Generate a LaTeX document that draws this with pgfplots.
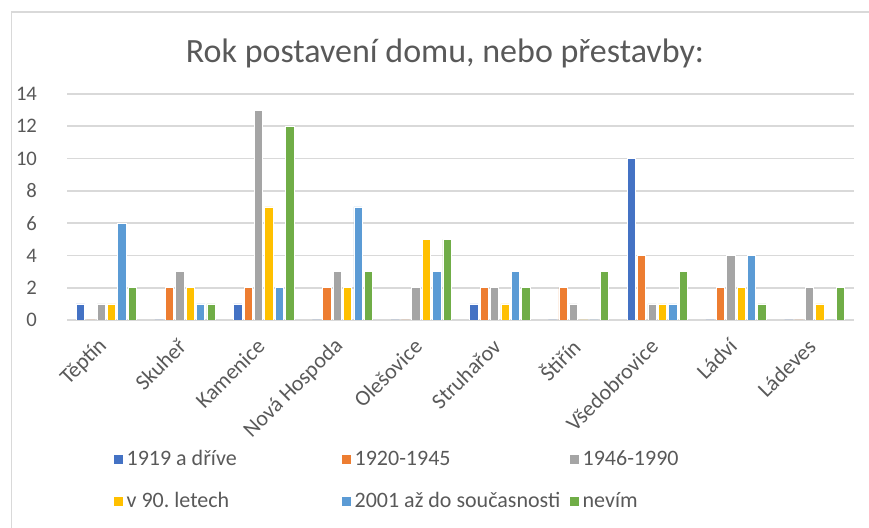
\documentclass[border=0pt]{standalone}
\usepackage{pgfplots}
\pgfplotsset{compat=1.18}
\usepackage{fontspec}
\setmainfont{Carlito}
\frenchspacing
\definecolor{cA}{HTML}{4472C4}
\definecolor{cB}{HTML}{ED7D31}
\definecolor{cC}{HTML}{A5A5A5}
\definecolor{cD}{HTML}{FFC000}
\definecolor{cE}{HTML}{5B9BD5}
\definecolor{cF}{HTML}{70AD47}
\definecolor{txt}{HTML}{595959}
\definecolor{gridc}{HTML}{D9D9D9}
\begin{document}
\begin{tikzpicture}[x=1pt,y=1pt]
\path[use as bounding box] (0,0) rectangle (651.75,396);
\draw[draw=gridc, line width=1.2pt] (8.5,-5) -- (8.5,387) -- (660,387);
\node[text=txt, font=\fontsize{25.5}{30}\selectfont] at (333.75,356) {Rok postavení domu, nebo přestavby:};
\begin{axis}[
  at={(50.25pt,156pt)}, anchor=south west,
  scale only axis, width=590.25pt, height=169.5pt,
  ybar, bar width=0.105,
  xmin=-0.5, xmax=9.5, ymin=0, ymax=14,
  xtick=data,
  xticklabels={Těptín,Skuheř,Kamenice,Nová Hospoda,Olešovice,Struhařov,Štiřín,Všedobrovice,Ládví,Ládeves},
  xticklabel style={xshift=-2pt, yshift=-17pt, rotate=45, anchor=east, font=\fontsize{16.5}{19}\selectfont, text=txt, inner sep=0pt},
  ytick={0,2,...,14},
  yticklabel style={font=\fontsize{15.5}{18}\selectfont, text=txt},
  /pgf/number format/assume math mode=true,
  xmajorgrids=false, ymajorgrids=true,
  major grid style={draw=gridc, line width=1.2pt},
  axis x line*=bottom, axis y line*=left,
  x axis line style={draw=gridc, line width=1.2pt, -},
  y axis line style={draw=none},
  major tick length=0pt,
  y tick label style={xshift=-19pt},
  legend columns=3,
  legend style={at={(0.0585,-0.565)}, anchor=north west, draw=none, fill=none, inner sep=0pt,
    font=\fontsize{16.5}{19}\selectfont, text=txt, row sep=14.5pt, column sep=0pt,
    cells={anchor=west}},
  legend image code/.code={\fill[#1] (0pt,-3.75pt) rectangle (7.5pt,3.75pt);},
  every axis plot/.append style={draw=white, line width=0.5pt},
]
\addplot[fill=cA, bar shift=-0.33] coordinates {(0,1)(1,0)(2,1)(3,0)(4,0)(5,1)(6,0)(7,10)(8,0)(9,0)};
\addlegendentry{\makebox[159pt][l]{1919 a dříve}}
\addplot[fill=cB, bar shift=-0.198] coordinates {(0,0)(1,2)(2,2)(3,2)(4,0)(5,2)(6,2)(7,4)(8,2)(9,0)};
\addlegendentry{\makebox[159pt][l]{1920-1945}}
\addplot[fill=cC, bar shift=-0.066] coordinates {(0,1)(1,3)(2,13)(3,3)(4,2)(5,2)(6,1)(7,1)(8,4)(9,2)};
\addlegendentry{\makebox[159pt][l]{1946-1990}}
\addplot[fill=cD, bar shift=0.066] coordinates {(0,1)(1,2)(2,7)(3,2)(4,5)(5,1)(6,0)(7,1)(8,2)(9,1)};
\addlegendentry{\makebox[159pt][l]{v 90. letech}}
\addplot[fill=cE, bar shift=0.198] coordinates {(0,6)(1,1)(2,2)(3,7)(4,3)(5,3)(6,0)(7,1)(8,4)(9,0)};
\addlegendentry{\makebox[159pt][l]{2001 až do současnosti}}
\addplot[fill=cF, bar shift=0.33] coordinates {(0,2)(1,1)(2,12)(3,3)(4,5)(5,2)(6,3)(7,3)(8,1)(9,2)};
\addlegendentry{\makebox[159pt][l]{nevím}}
\end{axis}
\end{tikzpicture}
\end{document}
